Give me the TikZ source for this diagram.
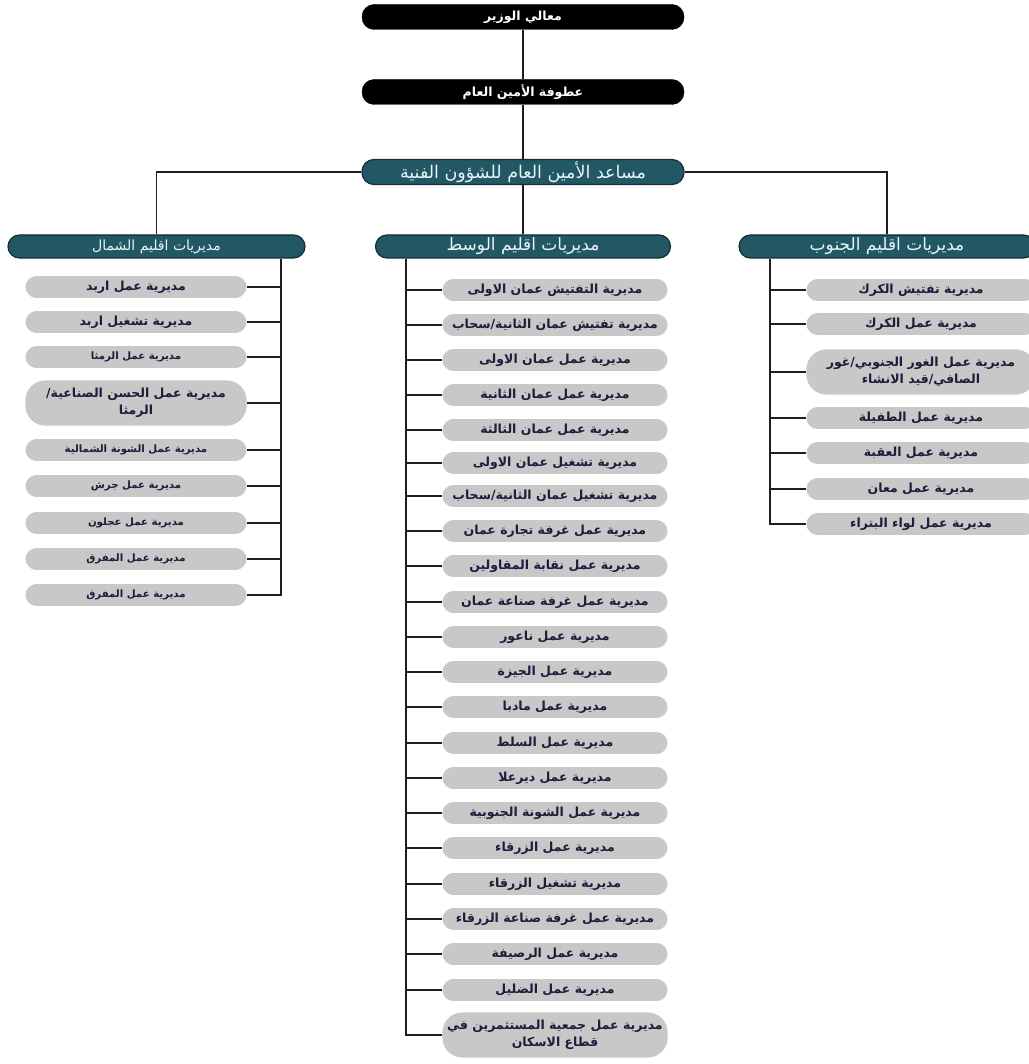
\documentclass[tikz,border=0pt]{standalone}
\usepackage{fontspec}
\TeXXeTstate=1
\newfontfamily\arabicfont[Script=Arabic]{DejaVu Sans}
\newcommand\artxt[1]{\beginR #1\endR}
\definecolor{tealbox}{RGB}{33,88,100}
\definecolor{tealline}{RGB}{22,45,52}
\definecolor{pillgray}{RGB}{200,200,200}
\definecolor{itemtext}{RGB}{28,28,60}
\definecolor{regtext}{RGB}{232,244,248}
\definecolor{connc}{RGB}{30,30,30}
\tikzset{
  topbox/.style={rectangle, draw=black, fill=black, rounded corners=12pt, minimum width=322pt,
    minimum height=25pt, inner sep=0pt, text=white, font=\arabicfont\bfseries\fontsize{12.5}{14}\selectfont},
  asstbox/.style={rectangle, draw=tealline, line width=1.2pt, fill=tealbox, rounded corners=12pt, minimum width=322pt,
    minimum height=25pt, inner sep=0pt, text=regtext, font=\arabicfont\fontsize{17.5}{19}\selectfont},
  regbox/.style={rectangle, draw=tealline, line width=1.2pt, fill=tealbox, rounded corners=11.5pt,
    minimum height=23pt, inner sep=0pt, text=regtext, font=\arabicfont\fontsize{17}{19}\selectfont},
  item/.style={rectangle, fill=pillgray, draw=white, line width=0.8pt, rounded corners=11.5pt,
    minimum height=23pt, inner sep=0pt, text=itemtext, align=center,
    font=\arabicfont\bfseries\fontsize{12.5}{17}\selectfont},
  smallitem/.style={font=\arabicfont\bfseries\fontsize{10.2}{12}\selectfont},
  item2/.style={item, minimum height=46pt, rounded corners=20pt},
  litem/.style={item, minimum width=222pt},
  mitem/.style={item, minimum width=226pt},
  ritem/.style={item, minimum width=230pt},
  conn/.style={draw=connc, line width=1.1pt},
}
\begin{document}
\begin{tikzpicture}[x=1pt,y=-1pt]
\useasboundingbox (0,0) rectangle (1028,1064);
\fill[white] (0,0) rectangle (1028,1064);

% top hierarchy
\node[topbox] (min) at (523,17) {\artxt{معالي الوزير}};
\node[topbox] (sg) at (523,92) {\artxt{عطوفة الأمين العام}};
\node[asstbox] (asst) at (523,172) {\artxt{مساعد الأمين العام للشؤون الفنية}};

% regions
\node[regbox, minimum width=297pt, font=\arabicfont\fontsize{14}{16}\selectfont] (north) at (156.5,246.5) {\artxt{مديريات اقليم الشمال}};
\node[regbox, minimum width=295pt] (mid) at (523,246.5) {\artxt{مديريات اقليم الوسط}};
\node[regbox, minimum width=296pt] (south) at (887,246.5) {\artxt{مديريات اقليم الجنوب}};

% trunks
\coordinate (nt) at (281,0);
\coordinate (mt) at (406,0);
\coordinate (st) at (770,0);

% north items
\node[litem] (n1) at (136,287) {\artxt{مديرية عمل اربد}};
\node[litem] (n2) at (136,322) {\artxt{مديرية تشغيل اربد}};
\node[litem, smallitem] (n3) at (136,357) {\artxt{مديرية عمل الرمثا}};
\node[litem, item2] (n4) at (136,403) {\artxt{مديرية عمل الحسن الصناعية/}\\\artxt{الرمثا}};
\node[litem, smallitem] (n5) at (136,450) {\artxt{مديرية عمل الشونة الشمالية}};
\node[litem, smallitem] (n6) at (136,486) {\artxt{مديرية عمل جرش}};
\node[litem, smallitem] (n7) at (136,523) {\artxt{مديرية عمل عجلون}};
\node[litem, smallitem] (n8) at (136,559) {\artxt{مديرية عمل المفرق}};
\node[litem, smallitem] (n9) at (136,595) {\artxt{مديرية عمل المفرق}};

% middle items
\node[mitem] (m1) at (555,290) {\artxt{مديرية التفتيش عمان الاولى}};
\node[mitem] (m2) at (555,325) {\artxt{مديرية تفتيش عمان الثانية/سحاب}};
\node[mitem] (m3) at (555,360) {\artxt{مديرية عمل عمان الاولى}};
\node[mitem] (m4) at (555,395) {\artxt{مديرية عمل عمان الثانية}};
\node[mitem] (m5) at (555,430) {\artxt{مديرية عمل عمان الثالثة}};
\node[mitem] (m6) at (555,463) {\artxt{مديرية تشغيل عمان الاولى}};
\node[mitem] (m7) at (555,496) {\artxt{مديرية تشغيل عمان الثانية/سحاب}};
\node[mitem] (m8) at (555,531) {\artxt{مديرية عمل غرفة تجارة عمان}};
\node[mitem] (m9) at (555,566) {\artxt{مديرية عمل نقابة المقاولين}};
\node[mitem] (m10) at (555,602) {\artxt{مديرية عمل غرفة صناعة عمان}};
\node[mitem] (m11) at (555,637) {\artxt{مديرية عمل ناعور}};
\node[mitem] (m12) at (555,672) {\artxt{مديرية عمل الجيزة}};
\node[mitem] (m13) at (555,707) {\artxt{مديرية عمل مادبا}};
\node[mitem] (m14) at (555,743) {\artxt{مديرية عمل السلط}};
\node[mitem] (m15) at (555,778) {\artxt{مديرية عمل ديرعلا}};
\node[mitem] (m16) at (555,813) {\artxt{مديرية عمل الشونة الجنوبية}};
\node[mitem] (m17) at (555,848) {\artxt{مديرية عمل الزرقاء}};
\node[mitem] (m18) at (555,884) {\artxt{مديرية تشغيل الزرقاء}};
\node[mitem] (m19) at (555,919) {\artxt{مديرية عمل غرفة صناعة الزرقاء}};
\node[mitem] (m20) at (555,954) {\artxt{مديرية عمل الرصيفة}};
\node[mitem] (m21) at (555,990) {\artxt{مديرية عمل الضليل}};
\node[mitem, item2] (m22) at (555,1035) {\artxt{مديرية عمل جمعية المستثمرين في}\\\artxt{قطاع الاسكان}};

% south items
\node[ritem] (s1) at (921,290) {\artxt{مديرية تفتيش الكرك}};
\node[ritem] (s2) at (921,324) {\artxt{مديرية عمل الكرك}};
\node[ritem, item2] (s3) at (921,372) {\artxt{مديرية عمل الغور الجنوبي/غور}\\\artxt{الصافي/قيد الانشاء}};
\node[ritem] (s4) at (921,418) {\artxt{مديرية عمل الطفيلة}};
\node[ritem] (s5) at (921,453) {\artxt{مديرية عمل العقبة}};
\node[ritem] (s6) at (921,489) {\artxt{مديرية عمل معان}};
\node[ritem] (s7) at (921,524) {\artxt{مديرية عمل لواء البتراء}};

% connectors: top
\draw[conn] (min.south) -- (sg.north);
\draw[conn] (sg.south) -- (asst.north);
\draw[conn] (asst.south) -- (mid.north);
\draw[conn] (asst.west) -| (north.north);
\draw[conn] (asst.east) -| (south.north);

% trunks
\draw[conn] (north.south -| nt) |- (n9.east);
\draw[conn] (mid.south -| mt) |- (m22.west);
\draw[conn] (south.south -| st) |- (s7.west);

\foreach \i in {1,...,8} { \draw[conn] (n\i.east) -- (n\i.east -| nt); }
\foreach \i in {1,...,21} { \draw[conn] (m\i.west) -- (m\i.west -| mt); }
\foreach \i in {1,...,6} { \draw[conn] (s\i.west) -- (s\i.west -| st); }
\end{tikzpicture}
\end{document}
